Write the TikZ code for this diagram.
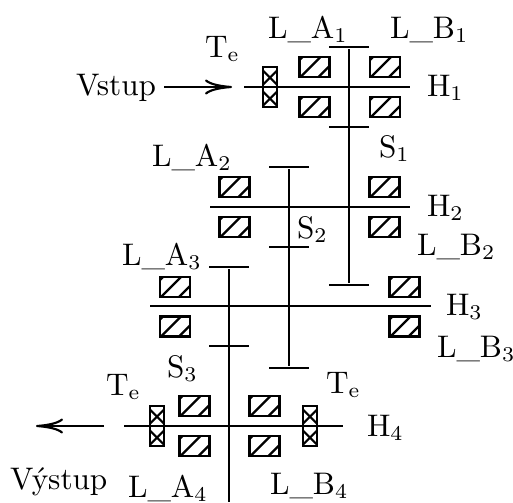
\documentclass[tikz,border=0pt]{standalone}
\usetikzlibrary{arrows.meta}
\begin{document}
\begin{tikzpicture}[
    x=0.3333pt, y=-0.3333pt,
    line width=0.72pt,
    bearing/.style={rectangle, draw, inner sep=0pt, minimum width=10pt, minimum height=6.67pt,
        path picture={\foreach \d in {-5.67,0.33,6.33} {
            \draw ([xshift=\d pt]path picture bounding box.south west) -- ++(8pt,8pt);
        }}},
    clutch/.style={rectangle, draw, inner sep=0pt, minimum width=4.67pt, minimum height=13.33pt,
        path picture={\foreach \d in {0.47,7.47} {
            \draw ([yshift=\d pt]path picture bounding box.south west) -- ++(4.67pt,4.67pt);
        }\foreach \d in {5.13,12.13} {
            \draw ([yshift=\d pt]path picture bounding box.south west) -- ++(4.67pt,-4.67pt);
        }}},
    gear/.style={rectangle, fill=black, inner sep=0pt, minimum width=13.33pt, minimum height=0.72pt},
    lbl/.style={anchor=base west, inner sep=0pt, font=\fontsize{10.4}{12}\selectfont},
    flow/.style={-{To[length=9pt,width=5pt]}}
]
    \useasboundingbox (0,0) rectangle (513,502);

    % Shaft ends
    \coordinate (H1a) at (244,87);
    \coordinate (H1b) at (410,87);
    \coordinate (H2a) at (210,207);
    \coordinate (H2b) at (410,207);
    \coordinate (H3a) at (150,306);
    \coordinate (H3b) at (431,306);
    \coordinate (H4a) at (124,426);
    \coordinate (H4b) at (343,426);
    \coordinate (S3end) at (229,502);
    \draw (H1a) -- (H1b);
    \draw (H2a) -- (H2b);
    \draw (H3a) -- (H3b);
    \draw (H4a) -- (H4b);

    % Gears
    \node[gear] (gear1a) at (349,47) {};
    \node[gear] (gear1b) at (349,127) {};
    \node[gear] (gear1c) at (349,285) {};
    \node[gear] (gear2a) at (289,167) {};
    \node[gear] (gear2b) at (289,247) {};
    \node[gear] (gear2c) at (289,368) {};
    \node[gear] (gear3a) at (229,267) {};
    \node[gear] (gear3b) at (229,346) {};
    \draw (gear1a) -- (gear1c);
    \draw (gear2a) -- (gear2c);
    \draw (gear3a) -- (S3end);

    % Bearings
    \node[bearing] (LA1t) at (314.5,67) {};
    \node[bearing] (LA1b) at (314.5,107) {};
    \node[bearing] (LB1t) at (385,67) {};
    \node[bearing] (LB1b) at (385,107) {};
    \node[bearing] (LA2t) at (234.5,187) {};
    \node[bearing] (LA2b) at (234.5,227) {};
    \node[bearing] (LB2t) at (384.5,187) {};
    \node[bearing] (LB2b) at (384.5,227) {};
    \node[bearing] (LA3t) at (175,287) {};
    \node[bearing] (LA3b) at (175,326.5) {};
    \node[bearing] (LB3t) at (404.5,287) {};
    \node[bearing] (LB3b) at (404.5,326.5) {};
    \node[bearing] (LA4t) at (194.5,406) {};
    \node[bearing] (LA4b) at (194.5,446) {};
    \node[bearing] (LB4t) at (264.5,406) {};
    \node[bearing] (LB4b) at (264.5,446) {};

    % Clutches
    \node[clutch] (clutchIn) at (270,87) {};
    \node[clutch] (clutchOutA) at (157,426) {};
    \node[clutch] (clutchOutB) at (310,426) {};

    % Input and output
    \coordinate (inA) at (164,87);
    \coordinate (inB) at (232,87);
    \coordinate (outA) at (104,426);
    \coordinate (outB) at (36,426);
    \draw[flow] (inA) -- (inB);
    \draw[flow] (outA) -- (outB);
    \node[lbl] (vstup) at (75,95) {Vstup};
    \node[lbl] (vystup) at (9,489) {V\'ystup};

    % Labels
    \node[lbl] (tLA1) at (267,38) {L\_A$_1$};
    \node[lbl] (tLB1) at (389,38) {L\_B$_1$};
    \node[lbl] (tLA2) at (151,166) {L\_A$_2$};
    \node[lbl] (tLB2) at (416,255) {L\_B$_2$};
    \node[lbl] (tLA3) at (121,265) {L\_A$_3$};
    \node[lbl] (tLB3) at (436,357) {L\_B$_3$};
    \node[lbl] (tLA4) at (127,497) {L\_A$_4$};
    \node[lbl] (tLB4) at (269,494) {L\_B$_4$};
    \node[lbl] (tH1) at (426,96) {H$_1$};
    \node[lbl] (tH2) at (426,216) {H$_2$};
    \node[lbl] (tH3) at (445,315) {H$_3$};
    \node[lbl] (tH4) at (366,436) {H$_4$};
    \node[lbl] (tS1) at (378,157) {S$_1$};
    \node[lbl] (tS2) at (296,238) {S$_2$};
    \node[lbl] (tS3) at (166,377) {S$_3$};
    \node[lbl] (tTe1) at (204,57) {T$_\mathrm{e}$};
    \node[lbl] (tTe2) at (105,395) {T$_\mathrm{e}$};
    \node[lbl] (tTe3) at (325,393) {T$_\mathrm{e}$};
\end{tikzpicture}
\end{document}
